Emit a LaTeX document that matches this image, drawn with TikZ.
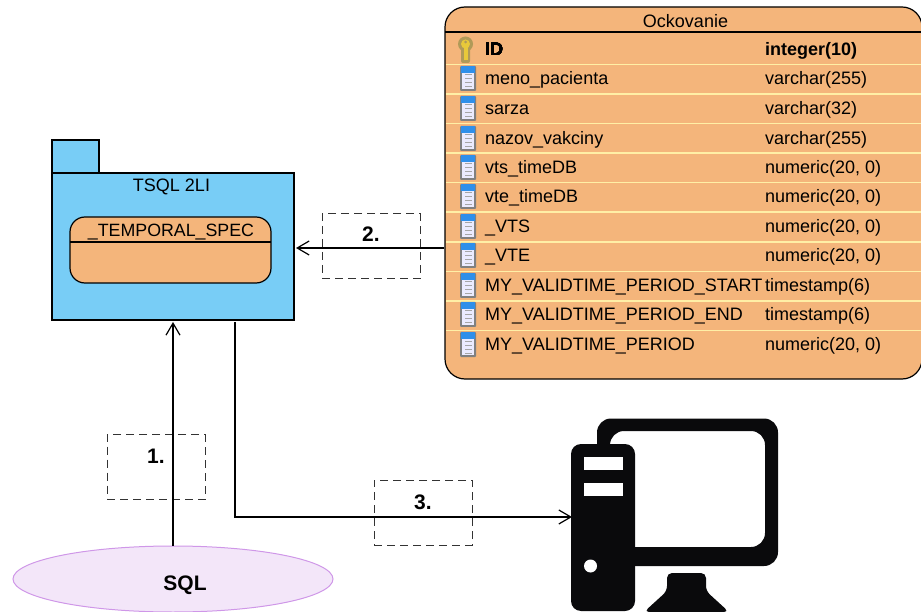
\documentclass[tikz,border=0pt]{standalone}
\usepackage{fontspec}
\setmainfont{Liberation Sans}
\usetikzlibrary{shapes,arrows.meta}
\definecolor{pkgblue}{HTML}{78CDF6}
\definecolor{tblorange}{HTML}{F4B57B}
\definecolor{rowline}{HTML}{FFEFA6}
\definecolor{sqlfill}{HTML}{F3E6F9}
\definecolor{sqlline}{HTML}{CF97E8}
\definecolor{pcblack}{HTML}{0A0A0C}
\definecolor{iconblue}{HTML}{2F8FEA}
\definecolor{keygold}{HTML}{E8C93A}
\definecolor{keyedge}{HTML}{B09A58}
\tikzstyle{edge} = [line width=1.2pt]
\tikzstyle{arrow} = [line width=1.2pt,-{Straight Barb[length=12pt,width=14pt]}]
\tikzstyle{notebox} = [draw=black!80, line width=1pt, dash pattern=on 8pt off 5pt, minimum width=98pt, minimum height=65pt, inner sep=0pt]
\tikzstyle{notetext} = [inner sep=0pt, font=\fontsize{21}{21}\selectfont\bfseries]
\tikzstyle{cell} = [anchor=base west, inner sep=0pt, font=\fontsize{18}{18}\selectfont]
\tikzstyle{pcpart} = [fill=pcblack, draw=none]
\newcommand{\colicon}[1]{
    \fill[black!50, rounded corners=1pt] (460,#1-12) rectangle (476,#1+13);
    \fill[blue!8!white] (462,#1-8) rectangle (474,#1+11);
    \fill[iconblue] (461,#1-12) rectangle (475,#1-5);
    \foreach \k in {-3,1,5,9} \draw[black!35, line width=1pt] (465,#1+\k) -- (472,#1+\k);
}
\begin{document}
\begin{tikzpicture}[x=1pt,y=-1pt]
    \useasboundingbox (0,0) rectangle (921,612);
    \node[draw, edge, fill=tblorange, rectangle, rounded corners=20pt, minimum width=477pt, minimum height=372pt, inner sep=0pt]
        (tableBox) at (683.5,193) {};
    \draw[edge] (445,32) -- (921,32);
    \foreach \liney in {64.5,94,123.5,153,182.5,212,242,271.5,301,330.5}
        \draw[rowline, line width=1.6pt] (446,\liney) -- (921,\liney);
    \node[inner sep=0pt, font=\fontsize{18}{18}\selectfont] (tableName) at (685.5,21.5) {Ockovanie};
    \fill[keyedge] (465.5,44) circle (7.5pt);
    \fill[keyedge, rounded corners=2pt] (461,46) rectangle (470,63);
    \fill[keygold] (465.5,44) circle (4.5pt);
    \fill[keygold] (463.5,46) rectangle (467.5,60);
    \fill[keyedge] (465.5,42) circle (1.5pt);
    \foreach \rowy in {78,108,138,167,196,226,255,285,314,344}
        \colicon{\rowy}
    \node[cell, font=\fontsize{18}{18}\selectfont\bfseries] (nameId) at (485,55.5) {ID};
    \node[cell, font=\fontsize{18}{18}\selectfont\bfseries] (typeId) at (765,55.5) {integer(10)};
    \foreach \i/\rowy/\colname/\coltype in {
        1/85/meno\_pacienta/varchar(255),
        2/114.5/sarza/varchar(32),
        3/144.5/nazov\_vakciny/varchar(255),
        4/173.5/vts\_timeDB/{numeric(20, 0)},
        5/203/vte\_timeDB/{numeric(20, 0)},
        6/233/\_VTS/{numeric(20, 0)},
        7/262/\_VTE/{numeric(20, 0)},
        8/291.5/MY\_VALIDTIME\_PERIOD\_START/timestamp(6),
        9/320.5/MY\_VALIDTIME\_PERIOD\_END/timestamp(6),
        10/350.5/MY\_VALIDTIME\_PERIOD/{numeric(20, 0)}}{
        \node[cell] (name\i) at (485,\rowy) {\colname};
        \node[cell] (type\i) at (765,\rowy) {\coltype};
    }
    \node[draw, edge, fill=pkgblue, rectangle, minimum width=47pt, minimum height=33pt, inner sep=0pt]
        (pkgTab) at (75.5,156.5) {};
    \node[draw, edge, fill=pkgblue, rectangle, minimum width=242pt, minimum height=147pt, inner sep=0pt]
        (pkgBody) at (173,246.5) {};
    \node[inner sep=0pt, font=\fontsize{18}{18}\selectfont] (pkgName) at (171.5,187) {TSQL 2LI};
    \node[draw, edge, fill=tblorange, rectangle, rounded corners=15pt, minimum width=201pt, minimum height=66pt, inner sep=0pt]
        (specBox) at (170.5,250) {};
    \draw[edge] (70,242) -- (271,242);
    \node[inner sep=0pt, font=\fontsize{17.8}{17.8}\selectfont] (specName) at (171,232.5) {\_TEMPORAL\_SPEC};
    \node[draw=sqlline, line width=1pt, fill=sqlfill, ellipse, minimum width=320pt, minimum height=66pt, inner sep=0pt]
        (sqlNode) at (173,579) {};
    \node[inner sep=0pt, font=\fontsize{21}{21}\selectfont\bfseries] (sqlName) at (185,585) {SQL};
    \node[notebox] (noteOne) at (156,467) {};
    \node[notetext] (textOne) at (156,456) {1.};
    \node[notebox] (noteTwo) at (371,246.5) {};
    \node[notetext] (textTwo) at (371,234) {2.};
    \node[notebox] (noteThree) at (423,512.5) {};
    \node[notetext] (textThree) at (423,502) {3.};
    \coordinate (specIn) at (296,248);
    \coordinate (pkgIn) at (173,322);
    \coordinate (pkgOut) at (235,322);
    \coordinate (pcIn) at (572,517);
    \draw[arrow] (tableBox.west |- specIn) -- (specIn);
    \draw[arrow] (sqlNode.north) -- (pkgIn);
    \draw[arrow] (pkgOut) |- (pcIn);
    \fill[pcpart, rounded corners=14pt, even odd rule]
        (597,566) rectangle (778,418.5) (610,547) rectangle (765,431);
    \node[pcpart, rectangle, rounded corners=10pt, minimum width=64pt, minimum height=167pt, inner sep=0pt]
        (pcTower) at (603,527.5) {};
    \fill[white] (584,457) rectangle (623,470);
    \fill[white] (584,483) rectangle (623,496);
    \fill[white] (590.5,566) circle (6.5pt);
    \fill[pcpart, rounded corners=5pt] (644,612) -- (667,591) -- (667,573) -- (706,573) -- (706,591) -- (729,612) -- cycle;
\end{tikzpicture}
\end{document}
